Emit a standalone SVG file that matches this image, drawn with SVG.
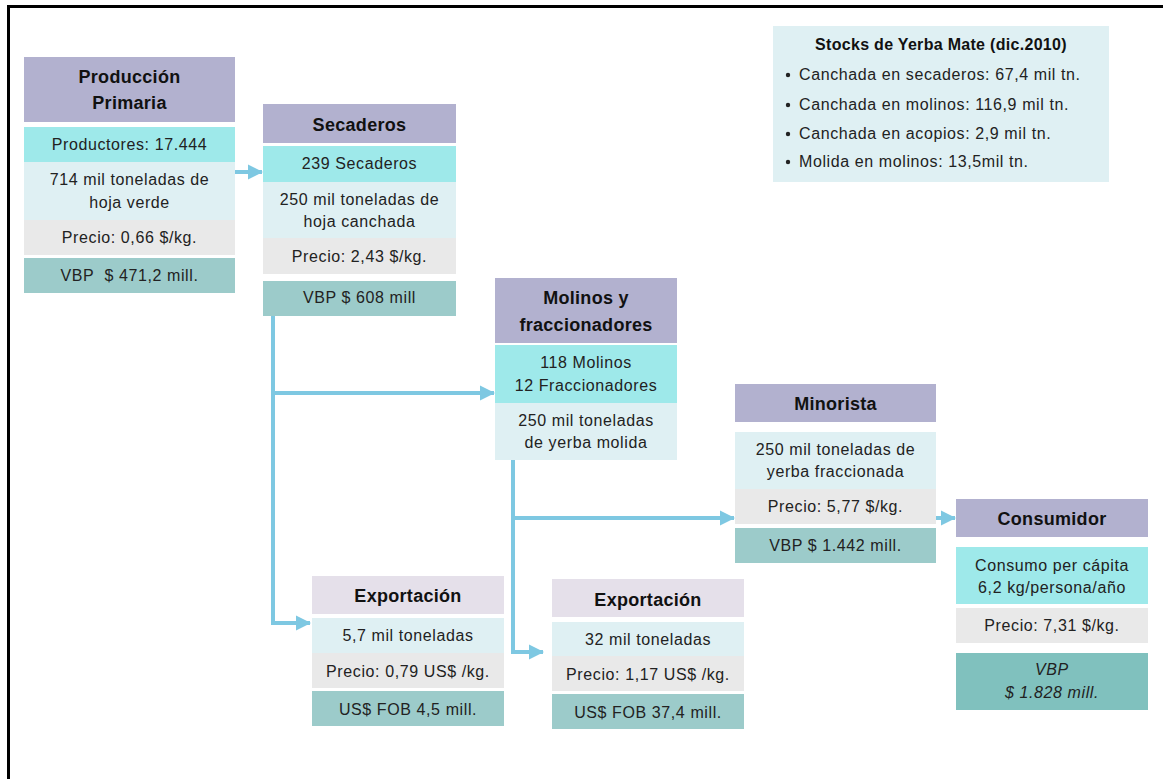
<svg xmlns="http://www.w3.org/2000/svg" width="1163" height="779" viewBox="0 0 1163 779">
<defs>
<marker id="ah" markerUnits="userSpaceOnUse" markerWidth="15" markerHeight="17" refX="14" refY="8.5" orient="auto">
<path d="M0,1 L15,8.5 L0,16 Z" fill="#7ec8e2"/>
</marker>
<style>
text{font-family:"Liberation Sans",Arial,sans-serif;font-size:16px;letter-spacing:0.6px;fill:#222;text-anchor:middle}
.h{font-weight:bold;font-size:18px;letter-spacing:0.3px;fill:#111}
.hd{fill:#b2b1cf}
.hl{fill:#e5e0ea}
.cy{fill:#9ee9ea}
.lt{fill:#dff0f3}
.gr{fill:#e9e9e9}
.tl{fill:#9ccbca}
.td{fill:#80c1be}
.it{font-style:italic}
.lk{fill:none;stroke:#7ec8e2;stroke-width:4}
.st{text-anchor:start}
</style>
</defs>
<rect width="1163" height="779" fill="#fff"/>
<path d="M8.5,779 V6.5 H1163" fill="none" stroke="#000" stroke-width="3"/>

<g id="connectors">
<path class="lk" d="M235,172 H262" marker-end="url(#ah)"/>
<path class="lk" d="M273,316 V623 H310" marker-end="url(#ah)"/>
<path class="lk" d="M273,393 H494" marker-end="url(#ah)"/>
<path class="lk" d="M513,460 V652 H543" marker-end="url(#ah)"/>
<path class="lk" d="M513,518 H734" marker-end="url(#ah)"/>
<path class="lk" d="M936,518 H955" marker-end="url(#ah)"/>
</g>

<g id="produccion">
<rect class="hd" x="24" y="57" width="211" height="65"/>
<text class="h" x="129.5" y="83">Producción</text>
<text class="h" x="129.5" y="109">Primaria</text>
<rect class="cy" x="24" y="127" width="211" height="35"/>
<text x="129.5" y="150">Productores: 17.444</text>
<rect class="lt" x="24" y="162" width="211" height="58"/>
<text x="129.5" y="185">714 mil toneladas de</text>
<text x="129.5" y="208">hoja verde</text>
<rect class="gr" x="24" y="220" width="211" height="35"/>
<text x="129.5" y="243">Precio: 0,66 $/kg.</text>
<rect class="tl" x="24" y="258" width="211" height="35"/>
<text x="129.5" y="281">VBP&#160; $ 471,2 mill.</text>
</g>

<g id="secaderos">
<rect class="hd" x="263" y="104" width="193" height="39"/>
<text class="h" x="359.5" y="131">Secaderos</text>
<rect class="cy" x="263" y="146" width="193" height="36"/>
<text x="359.5" y="169">239 Secaderos</text>
<rect class="lt" x="263" y="182" width="193" height="56"/>
<text x="359.5" y="205">250 mil toneladas de</text>
<text x="359.5" y="227">hoja canchada</text>
<rect class="gr" x="263" y="238" width="193" height="36"/>
<text x="359.5" y="262">Precio: 2,43 $/kg.</text>
<rect class="tl" x="263" y="281" width="193" height="35"/>
<text x="359.5" y="303">VBP $ 608 mill</text>
</g>

<g id="molinos">
<rect class="hd" x="495" y="278" width="182" height="65"/>
<text class="h" x="586" y="304">Molinos y</text>
<text class="h" x="586" y="331">fraccionadores</text>
<rect class="cy" x="495" y="345" width="182" height="58"/>
<text x="586" y="368">118 Molinos</text>
<text x="586" y="391">12 Fraccionadores</text>
<rect class="lt" x="495" y="403" width="182" height="57"/>
<text x="586" y="426">250 mil toneladas</text>
<text x="586" y="448">de yerba molida</text>
</g>

<g id="minorista">
<rect class="hd" x="735" y="384" width="201" height="38"/>
<text class="h" x="835.5" y="410">Minorista</text>
<rect class="lt" x="735" y="432" width="201" height="57"/>
<text x="835.5" y="455">250 mil toneladas de</text>
<text x="835.5" y="477">yerba fraccionada</text>
<rect class="gr" x="735" y="489" width="201" height="35"/>
<text x="835.5" y="512">Precio: 5,77 $/kg.</text>
<rect class="tl" x="735" y="528" width="201" height="35"/>
<text x="835.5" y="551">VBP $ 1.442 mill.</text>
</g>

<g id="consumidor">
<rect class="hd" x="956" y="499" width="192" height="38"/>
<text class="h" x="1052" y="525">Consumidor</text>
<rect class="cy" x="956" y="547" width="192" height="57"/>
<text x="1052" y="571">Consumo per cápita</text>
<text x="1052" y="593">6,2 kg/persona/año</text>
<rect class="gr" x="956" y="608" width="192" height="35"/>
<text x="1052" y="631">Precio: 7,31 $/kg.</text>
<rect class="td" x="956" y="653" width="192" height="57"/>
<text class="it" x="1052" y="675">VBP</text>
<text class="it" x="1052" y="698">$ 1.828 mill.</text>
</g>

<g id="exportacion1">
<rect class="hl" x="312" y="576" width="192" height="38"/>
<text class="h" x="408" y="602">Exportación</text>
<rect class="lt" x="312" y="618" width="192" height="35"/>
<text x="408" y="641">5,7 mil toneladas</text>
<rect class="gr" x="312" y="653" width="192" height="35"/>
<text x="408" y="677">Precio: 0,79 US$ /kg.</text>
<rect class="tl" x="312" y="691" width="192" height="35"/>
<text x="408" y="715">US$ FOB 4,5 mill.</text>
</g>

<g id="exportacion2">
<rect class="hl" x="552" y="579" width="192" height="38"/>
<text class="h" x="648" y="606">Exportación</text>
<rect class="lt" x="552" y="622" width="192" height="34"/>
<text x="648" y="645">32 mil toneladas</text>
<rect class="gr" x="552" y="656" width="192" height="35"/>
<text x="648" y="680">Precio: 1,17 US$ /kg.</text>
<rect class="tl" x="552" y="694" width="192" height="35"/>
<text x="648" y="718">US$ FOB 37,4 mill.</text>
</g>

<g id="stocks">
<rect class="lt" x="773" y="26" width="336" height="156"/>
<text class="h" x="941" y="50" style="font-size:16px">Stocks de Yerba Mate (dic.2010)</text>
<circle cx="788" cy="75" r="2.2" fill="#222"/>
<text class="st" x="799" y="80">Canchada en secaderos: 67,4 mil tn.</text>
<circle cx="788" cy="105" r="2.2" fill="#222"/>
<text class="st" x="799" y="110">Canchada en molinos: 116,9 mil tn.</text>
<circle cx="788" cy="134" r="2.2" fill="#222"/>
<text class="st" x="799" y="139">Canchada en acopios: 2,9 mil tn.</text>
<circle cx="788" cy="162" r="2.2" fill="#222"/>
<text class="st" x="799" y="167">Molida en molinos: 13,5mil tn.</text>
</g>
</svg>
